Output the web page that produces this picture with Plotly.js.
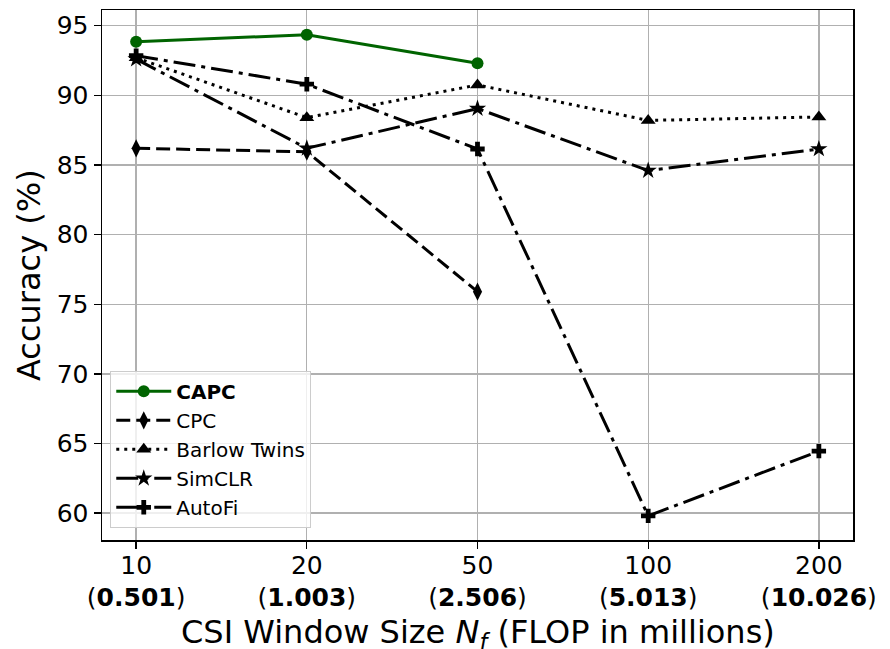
<!DOCTYPE html>
<html>
<head>
<meta charset="utf-8">
<script src="https://cdn.plot.ly/plotly-3.0.1.min.js"></script>
<style>html,body{margin:0;padding:0;background:#fff;}#chart{width:890px;height:649px;}</style>
</head>
<body>
<div id="chart"></div>
<script>
// Data
const windowSizes = ["10", "20", "50", "100", "200"];
const flopMillions = ["0.501", "1.003", "2.506", "5.013", "10.026"];
const capc = [93.85, 94.35, 92.3];
const cpc = [86.2, 85.95, 75.9];
const barlowTwins = [92.7, 88.4, 90.75, 88.2, 88.45];
const simclr = [92.6, 86.2, 89.05, 84.6, 86.15];
const autofi = [92.85, 90.8, 86.15, 59.8, 64.45];

const idx = windowSizes.map((_, i) => i);
const tickText = windowSizes.map((w, i) => w + "<br>(<b>" + flopMillions[i] + "</b>)");

const LW = 3;
function tr(name, ys, color, dash, symbol, msize) {
  return {
    x: idx.slice(0, ys.length), y: ys, name: name, type: "scatter", mode: "lines+markers",
    line: {color: color, width: LW, dash: dash},
    marker: {color: color, symbol: symbol, size: msize, line: {width: 0}}
  };
}
const data = [
  tr("<b>CAPC</b>", capc, "#006400", "solid", "circle", 12),
  tr("CPC", cpc, "#000000", "14px,6px", "diamond-tall", 13),
  tr("Barlow Twins", barlowTwins, "#000000", "3px,5px", "triangle-up", 13),
  tr("SimCLR", simclr, "#000000", "22px,6px,4px,6px", "star", 13),
  tr("AutoFi", autofi, "#000000", "22px,6px,4px,6px", "cross", 12)
];

const layout = {
  width: 890, height: 649,
  margin: {l: 102, r: 37, t: 10, b: 109},
  paper_bgcolor: "#fff", plot_bgcolor: "#fff",
  font: {family: "DejaVu Sans", color: "#000", size: 25},
  showlegend: true,
  xaxis: {
    range: [-0.2, 4.2], tickvals: idx, ticktext: tickText,
    showgrid: true, gridcolor: "#b0b0b0", gridwidth: 1.3,
    showline: true, linecolor: "#000", linewidth: 1.5, mirror: true,
    ticks: "outside", ticklen: 7, tickwidth: 1.3, tickcolor: "#000",
    tickfont: {size: 25}, zeroline: false, ticklabelstandoff: -5
  },
  yaxis: {
    range: [58.07, 96.13], tickvals: [60, 65, 70, 75, 80, 85, 90, 95],
    showgrid: true, gridcolor: "#b0b0b0", gridwidth: 1.3,
    showline: true, linecolor: "#000", linewidth: 1.5, mirror: true,
    ticks: "outside", ticklen: 7, tickwidth: 1.3, tickcolor: "#000",
    tickfont: {size: 25}, zeroline: false
  },
  annotations: [
    {text: "CSI Window Size <i>N</i><sub><i>f</i></sub> (FLOP in millions)", xref: "paper", yref: "paper",
     x: 0.5, y: 0, xanchor: "center", yanchor: "middle", yshift: -94, showarrow: false, font: {size: 32}},
    {text: "Accuracy (%)", xref: "paper", yref: "paper", x: 0, y: 0.5, xanchor: "center", yanchor: "middle",
     xshift: -73, textangle: -90, showarrow: false, font: {size: 32}}
  ],
  legend: {
    x: 0.011, y: 0.023, xanchor: "left", yanchor: "bottom",
    bgcolor: "rgba(255,255,255,0.8)", bordercolor: "#cccccc", borderwidth: 1,
    font: {size: 20}, itemwidth: 55
  }
};
Plotly.newPlot("chart", data, layout, {displayModeBar: false, staticPlot: true});
</script>
</body>
</html>
